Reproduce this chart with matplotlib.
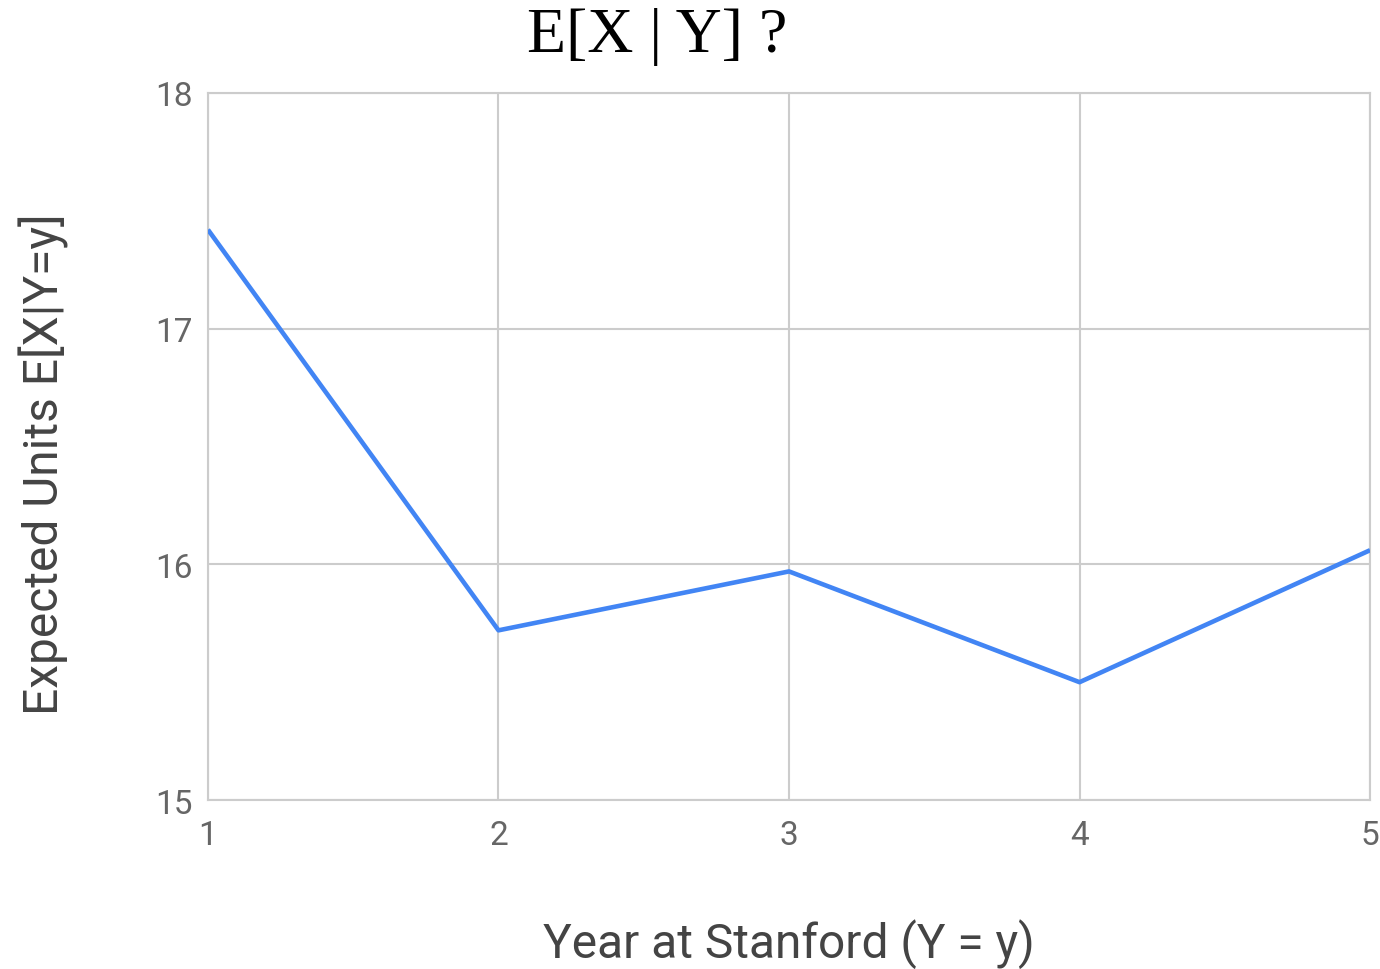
import matplotlib
matplotlib.use("Agg")
import matplotlib.pyplot as plt

years = [1, 2, 3, 4, 5]
expected_units = [17.42, 15.72, 15.97, 15.50, 16.06]
y_ticks = [15, 16, 17, 18]
x_ticks = [1, 2, 3, 4, 5]

title = "E[X | Y] ?"
xlabel = "Year at Stanford (Y = y)"
ylabel = "Expected Units E[X|Y=y]"

fig = plt.figure(figsize=(13.8, 9.7), dpi=100)
ax = fig.add_axes([0.1507, 0.1742, 0.9928 - 0.1507, 0.9031 - 0.1742])

ax.plot(years, expected_units, color="#4285F4", linewidth=3.3, solid_capstyle="butt", zorder=3)
ax.set_xlim(1, 5)
ax.set_ylim(15, 18)
ax.set_xticks(x_ticks)
ax.set_yticks(y_ticks)
ax.grid(True, color="#cccccc", linewidth=1.5, zorder=0)
for s in ax.spines.values():
    s.set_color("#cccccc")
    s.set_linewidth(1.5)
ax.tick_params(length=0, labelsize=24, labelcolor="#666666")
ax.tick_params(axis="x", pad=14)
ax.tick_params(axis="y", pad=11)
for lab in ax.get_xticklabels() + ax.get_yticklabels():
    lab.set_fontfamily("Roboto")

ax.set_xlabel(xlabel, fontsize=34.5, color="#444444", fontfamily="Roboto", labelpad=48)
ax.set_ylabel(ylabel, fontsize=34.5, color="#444444", fontfamily="Roboto", labelpad=62, y=0.477)

fig.text(0.476, 0.962, title, fontsize=46, fontfamily="Liberation Serif",
         ha="center", va="center", color="black")

fig.savefig("out.png", dpi=100, facecolor="white")
